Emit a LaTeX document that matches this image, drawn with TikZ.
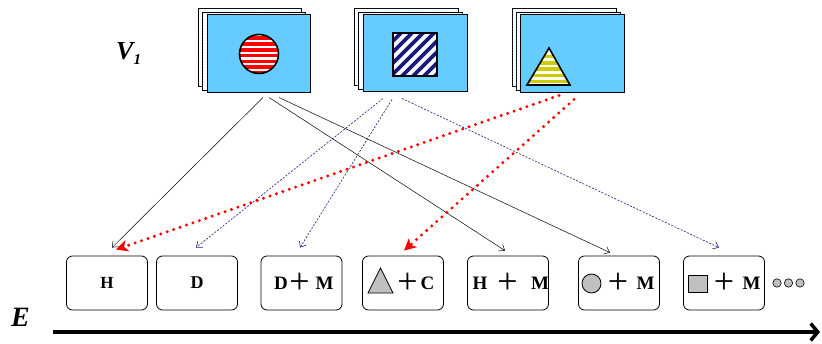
\documentclass[tikz,border=0pt]{standalone}
\usepackage{fontspec}
\setmainfont{Liberation Serif}
\usetikzlibrary{arrows.meta,patterns}
\definecolor{skyb}{RGB}{102,204,255}
\definecolor{navyb}{RGB}{25,25,128}
\definecolor{stripey}{RGB}{204,204,0}
\definecolor{grayf}{RGB}{192,192,192}
\definecolor{speck}{RGB}{160,210,245}
\begin{document}
\begin{tikzpicture}[x=1pt,y=-1pt,
  frontfr/.style={draw=black, line width=1pt, fill=skyb, minimum width=103pt, minimum height=78pt, inner sep=0pt},
  backfr/.style={draw=black, line width=0.9pt, fill=white, postaction={pattern=dots, pattern color=speck}},
  box/.style={draw=black, line width=0.8pt, rounded corners=6pt, minimum width=81pt, minimum height=54pt, inner sep=0pt},
  lbl/.style={font=\fontsize{19}{19}\selectfont\bfseries, inner sep=0pt},
  plussign/.style={font=\fontsize{36}{36}\selectfont, inner sep=0pt},
  blk/.style={draw=black, line width=0.5pt, -{Straight Barb[length=5pt,width=8pt]}},
  blu/.style={draw=navyb, line width=0.6pt, dash pattern=on 2pt off 1.5pt, -{Straight Barb[length=5pt,width=8pt]}},
  reddot/.style={draw=red, line width=3.3pt, line cap=round, dash pattern=on 0pt off 6.8pt, -{Stealth[length=12pt,width=12pt,inset=3.5pt]}},
  grayshape/.style={draw=black, line width=0.8pt, fill=grayf}
]
\useasboundingbox (0,0) rectangle (822,344);

% ---- frame stacks ----
\draw[backfr] (198.5,8.5) rectangle (301.5,86.5);
\draw[backfr] (202.5,12) rectangle (305.5,90);
\node[frontfr] (f1) at (258.5,54) {};

\draw[backfr] (354.5,8.5) rectangle (458.5,85.5);
\draw[backfr] (358.5,12) rectangle (462.5,89);
\node[frontfr, minimum width=104pt, minimum height=77pt] (f2) at (415,53.5) {};

\draw[backfr] (512,8.5) rectangle (616,86.5);
\draw[backfr] (516,12) rectangle (620,90);
\node[frontfr, minimum width=104pt] (f3) at (572,54) {};

% striped circle
\begin{scope}
  \clip (259,54) circle (19.5);
  \fill[white] (238,33) rectangle (281,76);
  \foreach \k in {0,...,6} \fill[red] (238,{36.5+\k*5.8}) rectangle (281,{40+\k*5.8});
\end{scope}
\draw[line width=1.6pt] (259,54) circle (19.5);

% striped square
\begin{scope}
  \clip (393,33) rectangle (437,76);
  \fill[white] (393,33) rectangle (437,76);
  \foreach \x in {330,341,...,440} \draw[navyb, line width=3.8pt] (\x,82) -- (\x+55,27);
\end{scope}
\draw[line width=1.6pt] (393,33) rectangle (437,76);

% striped triangle
\begin{scope}
  \clip (549,48) -- (570,85) -- (527,85) -- cycle;
  \fill[white] (525,46) rectangle (572,87);
  \foreach \k in {0,...,5} \fill[stripey] (525,{55+\k*6.2}) rectangle (572,{58.5+\k*6.2});
\end{scope}
\draw[line width=1.6pt, line join=miter] (549,48) -- (570,85) -- (527,85) -- cycle;

% ---- labels ----
\node[font=\fontsize{26}{26}\selectfont\bfseries\itshape, inner sep=0pt, anchor=base west] (v1) at (116,60)
  {V\raisebox{-5pt}{\fontsize{15}{15}\selectfont 1}};
\node[font=\fontsize{28}{28}\selectfont\bfseries\itshape, inner sep=0pt, anchor=base west] (e) at (11,327) {E};

% ---- boxes ----
\node[box] (b1) at (107,283) {};
\node[box] (b2) at (197,283) {};
\node[box] (b3) at (301.5,283) {};
\node[box] (b4) at (403,283) {};
\node[box] (b5) at (508,283) {};
\node[box] (b6) at (619,283) {};
\node[box] (b7) at (724,283) {};

\node[lbl, font=\fontsize{17}{17}\selectfont\bfseries] (t1) at (107,283) {H};
\node[lbl, font=\fontsize{18}{18}\selectfont\bfseries] (t2) at (197,283) {D};

\node[lbl] (t3a) at (281,283) {D};
\node[plussign] (t3b) at (299.5,283) {+};
\node[lbl] (t3c) at (324.5,283) {M};

\draw[grayshape] (380.5,268) -- (393,293) -- (368,293) -- cycle;
\node[plussign] (t4b) at (407.5,283) {+};
\node[lbl] (t4c) at (427.5,283) {C};

\node[lbl] (t5a) at (480,283) {H};
\node[plussign] (t5b) at (507.5,283) {+};
\node[lbl] (t5c) at (540,283) {M};

\draw[grayshape] (591.5,283.5) circle (9.5);
\node[plussign] (t6b) at (618,283) {+};
\node[lbl] (t6c) at (645.5,283) {M};

\draw[grayshape] (688,275) rectangle (707,292);
\node[plussign] (t7b) at (724,283) {+};
\node[lbl] (t7c) at (751.5,283) {M};

\foreach \x in {777,788.5,800} \draw[grayshape, line width=0.6pt] (\x,283) circle (4.2);

% ---- connectors ----
\draw[blk] ([xshift=4.5pt,yshift=-4pt]f1.south) -- ([xshift=5pt,yshift=8pt]b1.north);
\draw[blk] ([xshift=10.5pt,yshift=-4pt]f1.south) -- ([xshift=-3pt,yshift=5pt]b5.north);
\draw[blk] ([xshift=20.5pt,yshift=-4pt]f1.south) -- ([xshift=-9pt,yshift=3pt]b6.north);

\draw[blu] ([xshift=-32pt,yshift=-6pt]f2.south) -- ([xshift=-1pt,yshift=8pt]b2.north);
\draw[blu] ([xshift=-23pt,yshift=-7pt]f2.south) -- ([xshift=-1.5pt,yshift=8pt]b3.north);
\draw[blu] ([xshift=-13pt,yshift=-6pt]f2.south) -- ([xshift=-5pt,yshift=8pt]b7.north);

\draw[reddot] ([xshift=-13pt,yshift=-2pt]f3.south) -- ([xshift=9pt,yshift=6pt]b1.north);
\draw[reddot] ([xshift=2pt,yshift=-6pt]f3.south) -- ([xshift=1pt,yshift=5pt]b4.north);

% ---- axis ----
\coordinate (ax0) at (53,332);
\coordinate (ax1) at (820,332);
\draw[line width=3.5pt, -{Straight Barb[length=7pt,width=17pt]}] (ax0) -- (ax1);
\end{tikzpicture}
\end{document}
